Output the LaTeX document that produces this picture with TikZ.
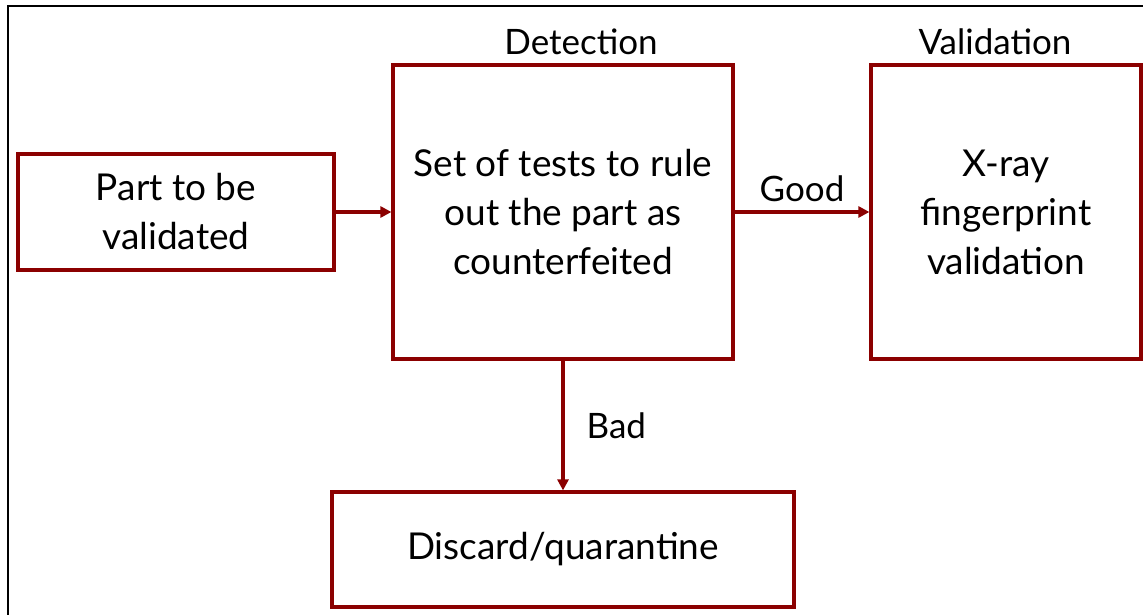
\documentclass[tikz,border=0pt]{standalone}
\usepackage{fontspec}
\setmainfont{Lato}
\usetikzlibrary{arrows.meta,shadows}
\definecolor{boxred}{RGB}{139,0,0}
\tikzset{
  block/.style={draw=boxred, line width=3.2pt, fill=white, align=center,
    inner sep=0pt, font=\fontsize{37}{49}\selectfont,
    drop shadow={shadow xshift=1.5pt, shadow yshift=-2pt, opacity=0.25, fill=black}},
  link/.style={draw=boxred, line width=3.2pt, -{Triangle[length=11pt,width=11pt]}},
  tag/.style={font=\fontsize{35}{40}\selectfont, inner sep=0pt}
}
\begin{document}
\begin{tikzpicture}[x=1pt,y=-1pt]
  \useasboundingbox (0,0) rectangle (1143,615);
  \begin{scope}
    \clip (0,0) rectangle (1143,615);
    \draw[line width=1.6pt, black] (8,6) rectangle (1170,640);
  \end{scope}

  \node[block, minimum width=316pt, minimum height=116pt] (part) at (176,212)
    {Part to be\\validated};
  \node[block, minimum width=340pt, minimum height=294pt] (detect) at (563,212)
    {Set of tests to rule\\out the part as\\counterfeited};
  \node[block, minimum width=270pt, minimum height=294pt] (xray) at (1006,212)
    {X-ray\\fingerprint\\validation};
  \node[block, minimum width=462pt, minimum height=115pt] (discard) at (563,549.5)
    {Discard/quarantine};

  \node[tag] (dlabel) at (581,42) {Detection};
  \node[tag] (vlabel) at (995,42) {Validation};

  \draw[link] (part.east) -- (detect.west);
  \draw[link] (detect.east) -- node[tag, above=9pt] {Good} (xray.west);
  \draw[link] (detect.south) -- node[tag, right=22pt] {Bad} (discard.north);
\end{tikzpicture}
\end{document}
